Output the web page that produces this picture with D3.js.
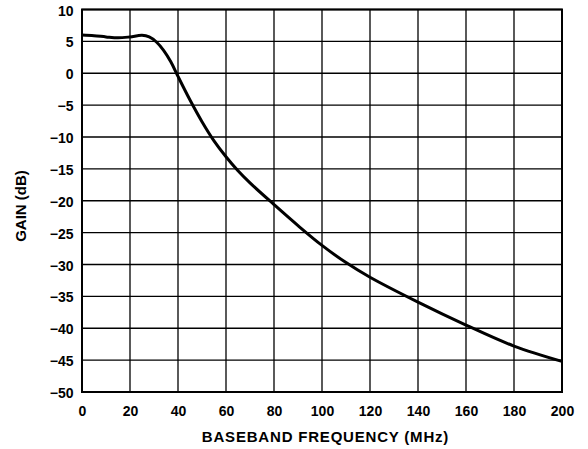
<!DOCTYPE html>
<html>
<head>
<meta charset="utf-8">
<script src="https://cdn.jsdelivr.net/npm/d3@7"></script>
<style>
  html, body { margin: 0; padding: 0; background: #fff; }
  svg { display: block; }
  text { font-family: "Liberation Sans", Arial, sans-serif; font-weight: bold; fill: #000; }
</style>
</head>
<body>
<svg id="chart" width="588" height="449"></svg>
<script>
const freqMHz = [0, 5, 10, 15, 20, 25, 28, 31, 34, 37, 40, 45, 50, 55, 60, 65, 70, 80, 90, 100, 110, 120, 140, 160, 180, 200];
const gainDb  = [6.0, 5.9, 5.7, 5.55, 5.7, 5.95, 5.7, 4.9, 3.6, 1.8, -0.5, -4.2, -7.6, -10.6, -13.1, -15.3, -17.2, -20.6, -23.9, -27.0, -29.7, -32.0, -35.9, -39.5, -42.8, -45.2];
const xTicks = [0, 20, 40, 60, 80, 100, 120, 140, 160, 180, 200];
const yTicks = [10, 5, 0, -5, -10, -15, -20, -25, -30, -35, -40, -45, -50];
const xTitle = "BASEBAND FREQUENCY (MHz)";
const yTitle = "GAIN (dB)";

(function () {
const svg = d3.select("#chart");
const pLeft = 82, pRight = 562, pTop = 9.5, pBottom = 392;

const x = d3.scaleLinear().domain([0, 200]).range([pLeft, pRight]);
const y = d3.scaleLinear().domain([-50, 10]).range([pBottom, pTop]);

// grid
const g = svg.append("g");
g.selectAll("line.vx").data(xTicks).join("line").attr("class", "vx")
  .attr("x1", d => x(d)).attr("x2", d => x(d))
  .attr("y1", pTop).attr("y2", pBottom)
  .attr("stroke", "#000").attr("stroke-width", 1.3);
g.selectAll("line.hy").data(yTicks).join("line").attr("class", "hy")
  .attr("y1", d => y(d)).attr("y2", d => y(d))
  .attr("x1", pLeft).attr("x2", pRight)
  .attr("stroke", "#000").attr("stroke-width", 1.3);

// frame
svg.append("rect")
  .attr("x", pLeft).attr("y", pTop)
  .attr("width", pRight - pLeft).attr("height", pBottom - pTop)
  .attr("fill", "none").attr("stroke", "#000").attr("stroke-width", 2);

// axes labels via d3 axes
const xAxis = d3.axisBottom(x).tickValues(xTicks).tickSize(0).tickPadding(0);
const xg = svg.append("g").attr("transform", `translate(0,${pBottom})`).call(xAxis);
xg.select(".domain").remove();
xg.selectAll("text").attr("font-size", 14).attr("dy", null).attr("y", 23.5)
  .style("font-family", "'Liberation Sans', Arial, sans-serif").style("font-weight", "bold").attr("fill", "#000");

const yAxis = d3.axisLeft(y).tickValues(yTicks).tickSize(0).tickPadding(0)
  .tickFormat(d => d < 0 ? "\u2212" + Math.abs(d) : String(d));
const yg = svg.append("g").attr("transform", `translate(${pLeft},0)`).call(yAxis);
yg.select(".domain").remove();
yg.selectAll("text").attr("font-size", 14).attr("x", -8.5).attr("dy", "0.4em")
  .style("font-family", "'Liberation Sans', Arial, sans-serif").style("font-weight", "bold").attr("fill", "#000");

// titles
svg.append("text").attr("x", 325.5).attr("y", 442)
  .attr("text-anchor", "middle").attr("font-size", 15)
  .attr("letter-spacing", "0.8px").text(xTitle);
svg.append("text")
  .attr("transform", `translate(26,206) rotate(-90)`)
  .attr("text-anchor", "middle").attr("font-size", 15).text(yTitle);

// curve
const pts = freqMHz.map((f, i) => [f, gainDb[i]]);
svg.append("path").datum(pts)
  .attr("fill", "none").attr("stroke", "#000").attr("stroke-width", 3)
  .attr("stroke-linejoin", "round")
  .attr("d", d3.line().x(d => x(d[0])).y(d => y(d[1])).curve(d3.curveCatmullRom.alpha(0.5)));
})();
</script>
</body>
</html>
